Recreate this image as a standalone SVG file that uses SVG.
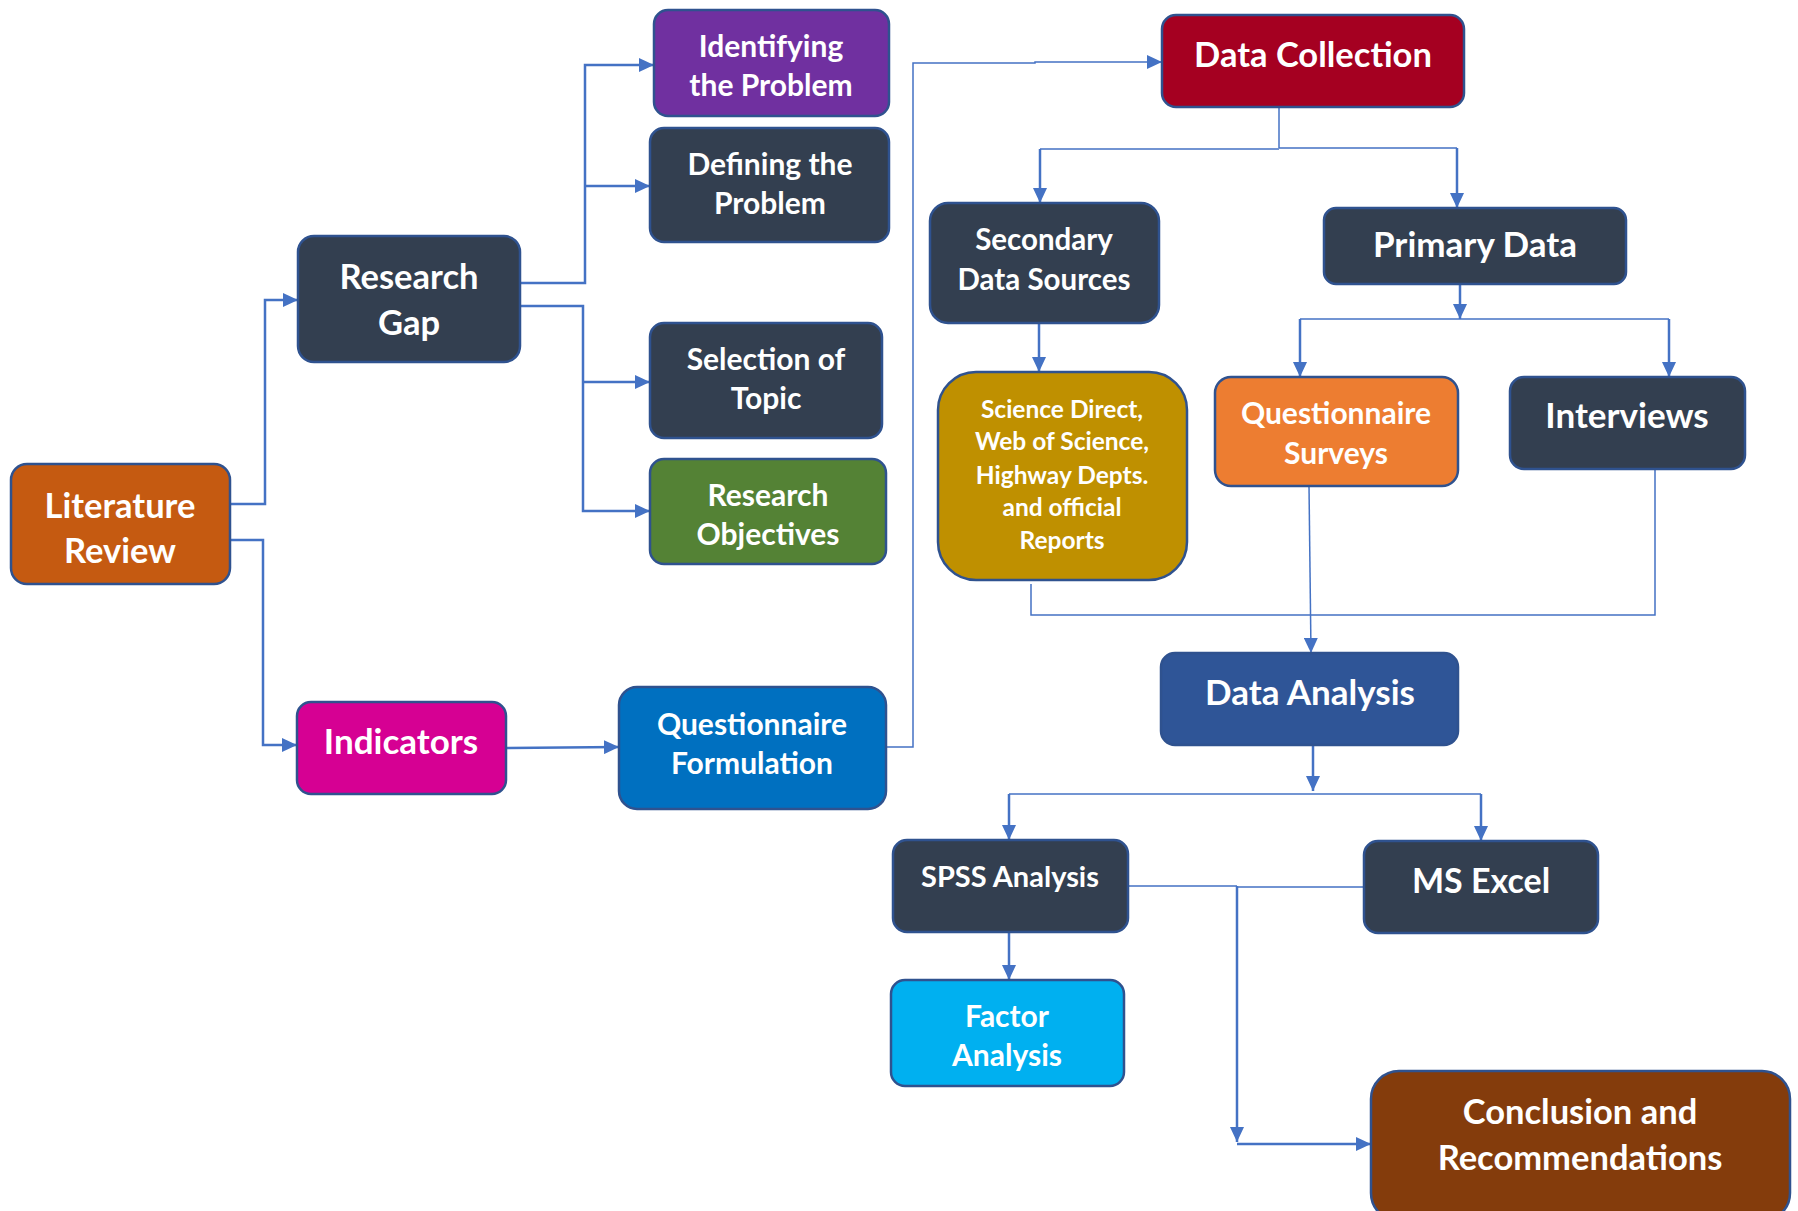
<svg xmlns="http://www.w3.org/2000/svg" width="1798" height="1211" viewBox="0 0 1798 1211">
<style>
.n{stroke:#2F528F;stroke-width:2.5}
.t{font-family:Lato,"Open Sans","Liberation Sans",sans-serif;font-weight:700;fill:#FFFFFF;text-anchor:middle}
.c{fill:none;stroke:#4472C4;stroke-width:2.5}
.s{fill:none;stroke:#4472C4;stroke-width:1.5}
.a{marker-end:url(#ah)}
</style>
<defs>
<marker id="ah" viewBox="0 0 15 14" refX="15" refY="7" markerWidth="15" markerHeight="14" markerUnits="userSpaceOnUse" orient="auto">
<path d="M0,0 L15,7 L0,14 z" fill="#4472C4"/>
</marker>
</defs>
<rect width="1798" height="1211" fill="#FFFFFF"/>
<g id="connectors">
<path class="c a" d="M230,504 H265 V300 H298"/>
<path class="c a" d="M230,540 H263 V745 H297"/>
<path class="c a" d="M520,283 H585 V65 H654"/>
<path class="c a" d="M585,186 H650"/>
<path class="c a" d="M520,306 H583 V511 H650"/>
<path class="c a" d="M583,382 H650"/>
<path class="c a" d="M506,748 L619,747"/>
<path class="s a" d="M886,747 H913 V63 H1035 V62 H1162"/>
<path class="s" d="M1279,107 V148"/>
<path class="s" d="M1040,149 H1279 M1279,148 H1457"/>
<path class="c a" d="M1040,149 V203"/>
<path class="c a" d="M1457,148 V208"/>
<path class="c a" d="M1039,323 V372"/>
<path class="c a" d="M1460,284 V319"/>
<path class="s" d="M1300,319 H1669"/>
<path class="c a" d="M1300,319 V377"/>
<path class="c a" d="M1669,319 V377"/>
<path class="s" d="M1031,584 V615 H1655 V469"/>
<path class="s a" d="M1309,486 L1311,653"/>
<path class="c a" d="M1313,745 V791"/>
<path class="s" d="M1009,794 H1481"/>
<path class="c a" d="M1009,794 V840"/>
<path class="c a" d="M1481,794 V841"/>
<path class="c a" d="M1009,932 V980"/>
<path class="s" d="M1128,886 H1237 M1364,887 H1237"/>
<path class="c a" d="M1237,886 V1142"/>
<path class="c a" d="M1237,1144 H1371"/>
</g>
<g id="literature-review"><rect class="n" x="11" y="464" width="219" height="120" rx="16" fill="#C55A11"/><text class="t" font-size="34.5" x="120" y="518">Literature</text><text class="t" font-size="34.5" x="120" y="563">Review</text></g>
<g id="research-gap"><rect class="n" x="298" y="236" width="222" height="126" rx="16" fill="#333F50"/><text class="t" font-size="34.5" x="409" y="289">Research</text><text class="t" font-size="34.5" x="409" y="335">Gap</text></g>
<g id="identifying"><rect class="n" x="654" y="10" width="235" height="106" rx="14" fill="#7030A0"/><text class="t" font-size="30" x="771" y="57">Identifying</text><text class="t" font-size="30" x="771" y="96">the Problem</text></g>
<g id="defining"><rect class="n" x="650" y="128" width="239" height="114" rx="14" fill="#333F50"/><text class="t" font-size="30" x="770" y="175">Defining the</text><text class="t" font-size="30" x="770" y="214">Problem</text></g>
<g id="selection"><rect class="n" x="650" y="323" width="232" height="115" rx="14" fill="#333F50"/><text class="t" font-size="30" x="766" y="370">Selection of</text><text class="t" font-size="30" x="766" y="409">Topic</text></g>
<g id="objectives"><rect class="n" x="650" y="459" width="236" height="105" rx="14" fill="#548235"/><text class="t" font-size="30" x="768" y="506">Research</text><text class="t" font-size="30" x="768" y="545">Objectives</text></g>
<g id="indicators"><rect class="n" x="297" y="702" width="209" height="92" rx="14" fill="#D60093"/><text class="t" font-size="35" x="401" y="754">Indicators</text></g>
<g id="questionnaire-formulation"><rect class="n" x="619" y="687" width="267" height="122" rx="18" fill="#0070C0"/><text class="t" font-size="30" x="752" y="735">Questionnaire</text><text class="t" font-size="30" x="752" y="774">Formulation</text></g>
<g id="data-collection"><rect class="n" x="1162" y="15" width="302" height="92" rx="14" fill="#A50021"/><text class="t" font-size="34.5" x="1313" y="67">Data Collection</text></g>
<g id="secondary"><rect class="n" x="930" y="203" width="229" height="120" rx="18" fill="#333F50"/><text class="t" font-size="29.5" x="1044" y="250">Secondary</text><text class="t" font-size="29.5" x="1044" y="290">Data Sources</text></g>
<g id="primary"><rect class="n" x="1324" y="208" width="302" height="76" rx="12" fill="#333F50"/><text class="t" font-size="35" x="1475" y="257">Primary Data</text></g>
<g id="science-direct"><rect class="n" x="938" y="372" width="249" height="208" rx="38" fill="#BF9000"/><text class="t" font-size="24.5" x="1062" y="418">Science Direct,</text><text class="t" font-size="24.5" x="1062" y="450">Web of Science,</text><text class="t" font-size="24.5" x="1062" y="484">Highway Depts.</text><text class="t" font-size="24.5" x="1062" y="516">and official</text><text class="t" font-size="24.5" x="1062" y="549">Reports</text></g>
<g id="questionnaire-surveys"><rect class="n" x="1215" y="377" width="243" height="109" rx="16" fill="#ED7D31"/><text class="t" font-size="30" x="1336" y="424">Questionnaire</text><text class="t" font-size="30" x="1336" y="464">Surveys</text></g>
<g id="interviews"><rect class="n" x="1510" y="377" width="235" height="92" rx="14" fill="#333F50"/><text class="t" font-size="35" x="1627" y="428">Interviews</text></g>
<g id="data-analysis"><rect class="n" x="1161" y="653" width="297" height="92" rx="14" fill="#2F5597"/><text class="t" font-size="35" x="1310" y="705">Data Analysis</text></g>
<g id="spss"><rect class="n" x="893" y="840" width="235" height="92" rx="14" fill="#333F50"/><text class="t" font-size="29" x="1010" y="887">SPSS Analysis</text></g>
<g id="ms-excel"><rect class="n" x="1364" y="841" width="234" height="92" rx="14" fill="#333F50"/><text class="t" font-size="34" x="1481" y="893">MS Excel</text></g>
<g id="factor-analysis"><rect class="n" x="891" y="980" width="233" height="106" rx="14" fill="#00B0F0"/><text class="t" font-size="30" x="1007" y="1027">Factor</text><text class="t" font-size="30" x="1007" y="1066">Analysis</text></g>
<g id="conclusion"><rect class="n" x="1371" y="1071" width="419" height="150" rx="28" fill="#843C0C"/><text class="t" font-size="34.5" x="1580" y="1124">Conclusion and</text><text class="t" font-size="34.5" x="1580" y="1170">Recommendations</text></g>
</svg>
